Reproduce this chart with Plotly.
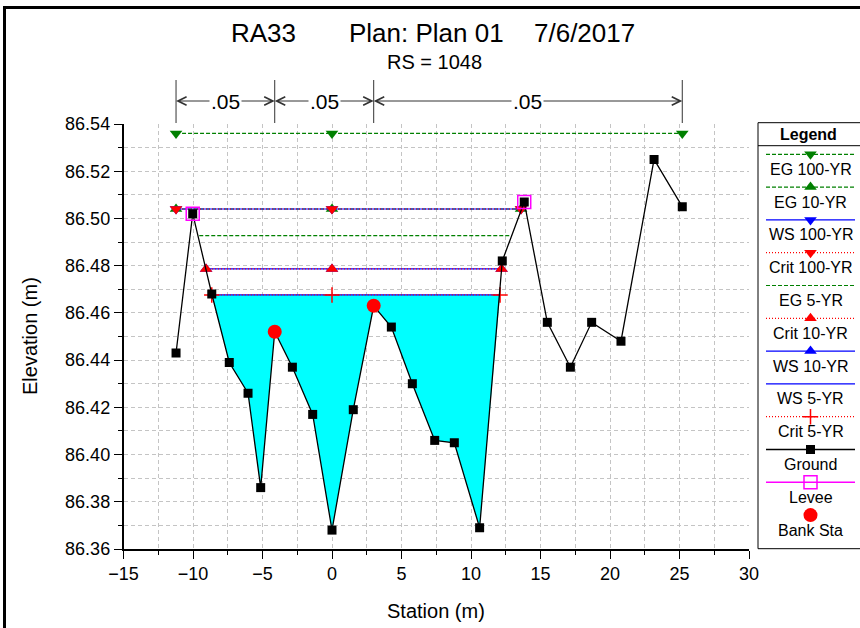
import plotly.graph_objects as go

W, H = 860, 628

# ground points of the cross section (station m, elevation m)
ground_sta = [-11.22, -10.02, -8.65, -7.39, -6.04, -5.13, -4.12, -2.85, -1.39, 0.0, 1.53, 3.0,
              4.27, 5.78, 7.39, 8.8, 10.62, 12.25, 13.83, 15.49, 17.15, 18.68, 20.79, 23.17, 25.2]
ground_elev = [86.443, 86.502, 86.468, 86.439, 86.426, 86.386, 86.452, 86.437, 86.417, 86.368, 86.419, 86.463,
               86.454, 86.430, 86.406, 86.405, 86.369, 86.482, 86.507, 86.456, 86.437, 86.456, 86.448, 86.525, 86.505]

levee_sta = [-10.02, 13.83]
levee_elev = [86.502, 86.507]

bank_sta = [-4.12, 3.0]
bank_elev = [86.452, 86.463]

# profiles: elevation and left / right extent
profile_names = ["EG 100-YR", "EG 10-YR", "WS 100-YR", "Crit 100-YR", "EG 5-YR",
                 "Crit 10-YR", "WS 10-YR", "WS 5-YR", "Crit 5-YR"]
profile_elev = [86.536, 86.504, 86.504, 86.504, 86.4927, 86.4786, 86.4786, 86.4676, 86.4676]
profile_left = [-11.22, -11.22, -11.22, -11.22, -9.55, -9.06, -9.06, -8.65, -8.65]
profile_right = [25.2, 13.6, 13.6, 13.6, 12.93, 12.2, 12.2, 12.09, 12.09]
mid_marker_sta = 0.0

# manning's n
n_bounds = [-11.22, -4.12, 3.0, 25.2]
n_values = [".05", ".05", ".05"]

FONT = "Arial, Liberation Sans, sans-serif"
GREEN, BLUE, RED = "#008000", "#0000ff", "#ff0000"
kind_style = {
    "EG": dict(color=GREEN, dash="4px,2px", width=1.2),
    "WS": dict(color=BLUE, dash="solid", width=1.2),
    "Crit": dict(color=RED, dash="1px,2px", width=1.2),
}
symbols = {"EG 100-YR": "triangle-down", "EG 10-YR": "triangle-up", "WS 100-YR": "triangle-down",
           "Crit 100-YR": "triangle-down", "Crit 10-YR": "triangle-up", "WS 10-YR": "triangle-up",
           "Crit 5-YR": "cross-thin"}


def marker_for(name, color):
    sym = symbols.get(name)
    if sym is None:
        return None
    if sym == "cross-thin":
        return dict(symbol=sym, size=11, color=color, line=dict(color=color, width=1.5))
    return dict(symbol=sym, size=11, color=color, line=dict(width=0))


fig = go.Figure()

# water fill of the lowest profile (WS 5-YR)
i5 = profile_names.index("WS 5-YR")
wl, wr, we = profile_left[i5], profile_right[i5], profile_elev[i5]
fx = [wl] + [s for s in ground_sta if wl < s < wr] + [wr]
fy = [we] + [e for s, e in zip(ground_sta, ground_elev) if wl < s < wr] + [we]
fig.add_trace(go.Scatter(x=fx, y=fy, fill="toself", fillcolor="#00ffff", mode="lines",
                         line=dict(width=0), hoverinfo="skip"))

# profile lines, green under blue under red
for kind in ["EG", "WS", "Crit"]:
    for name, el, l, r in zip(profile_names, profile_elev, profile_left, profile_right):
        if not name.startswith(kind):
            continue
        st = kind_style[kind]
        fig.add_trace(go.Scatter(x=[l, r], y=[el, el], mode="lines",
                                 line=dict(color=st["color"], dash=st["dash"], width=st["width"])))
        mk = marker_for(name, st["color"])
        if mk:
            fig.add_trace(go.Scatter(x=[l, mid_marker_sta, r], y=[el, el, el], mode="markers", marker=mk))

fig.add_trace(go.Scatter(x=ground_sta, y=ground_elev, mode="lines+markers",
                         line=dict(color="black", width=1.3),
                         marker=dict(symbol="square", size=9, color="black")))
fig.add_trace(go.Scatter(x=levee_sta, y=levee_elev, mode="markers",
                         marker=dict(symbol="square-open", size=13, color="#ff00ff", line=dict(width=1.5))))
fig.add_trace(go.Scatter(x=bank_sta, y=bank_elev, mode="markers",
                         marker=dict(symbol="circle", size=14, color=RED)))

# plot area in pixels
pl, pr, pt, pb = 123.5, 749, 124, 549
grid = dict(showgrid=True, gridcolor="#c4c4c4", griddash="4px,3px", gridwidth=1)
axis_common = dict(ticks="outside", ticklen=8, tickwidth=1, tickcolor="black", showline=True,
                   linecolor="black", linewidth=1.5, zeroline=False, automargin=False,
                   tickfont=dict(family=FONT, size=18, color="black"), **grid)

fig.update_layout(
    template="none",
    width=W, height=H,
    margin=dict(l=0, r=0, t=0, b=0),
    paper_bgcolor="white",
    plot_bgcolor="rgba(0,0,0,0)",
    showlegend=False,
    xaxis=dict(domain=[pl / W, pr / W], range=[-15, 30], tick0=0, dtick=5,
               minor=dict(dtick=2.5, ticks="outside", ticklen=4, tickcolor="black", **grid),
               **axis_common),
    yaxis=dict(domain=[1 - pb / H, 1 - pt / H], range=[86.36, 86.54], tick0=86.36, dtick=0.02,
               tickformat=".2f",
               minor=dict(dtick=0.01, ticks="outside", ticklen=4, tickcolor="black", **grid),
               **axis_common),
    xaxis2=dict(domain=[0, 1], range=[0, W], visible=False, anchor="y2"),
    yaxis2=dict(domain=[0, 1], range=[H, 0], visible=False, anchor="x2"),
)

shapes = []
annotations = []

# outer frame
shapes.append(dict(type="rect", xref="x2", yref="y2", x0=4.5, y0=7.5, x1=W + 10, y1=H + 10,
                   line=dict(color="black", width=3)))

# manning's n brackets
for b in n_bounds:
    shapes.append(dict(type="line", xref="x", yref="y2", x0=b, x1=b, y0=80, y1=123,
                       line=dict(color="#333333", width=1)))
ny = 101
for i, nv in enumerate(n_values):
    a, b = n_bounds[i], n_bounds[i + 1]
    m = (a + b) / 2
    for end in (a, b):
        annotations.append(dict(xref="x", yref="y2", x=end, y=ny, axref="x", ayref="y2", ax=m, ay=ny,
                                text="", showarrow=True, arrowhead=5, arrowsize=1.7, arrowwidth=1,
                                arrowcolor="#333333", standoff=0))
for i, nv in enumerate(n_values):
    m = (n_bounds[i] + n_bounds[i + 1]) / 2
    annotations.append(dict(xref="x", yref="y2", x=m, y=ny, text=nv, showarrow=False, bgcolor="white",
                            font=dict(family=FONT, size=21, color="black")))

# titles
tfont = dict(family=FONT, size=26, color="black")
annotations.append(dict(xref="x2", yref="y2", x=229, y=33, xanchor="left", showarrow=False,
                        text="RA33", font=tfont))
annotations.append(dict(xref="x2", yref="y2", x=347, y=33, xanchor="left", showarrow=False,
                        text="Plan: Plan 01", font=tfont))
annotations.append(dict(xref="x2", yref="y2", x=532, y=33, xanchor="left", showarrow=False,
                        text="7/6/2017", font=tfont))
annotations.append(dict(xref="x2", yref="y2", x=434, y=62, showarrow=False,
                        text="RS = 1048", font=dict(family=FONT, size=20, color="black")))
annotations.append(dict(xref="x2", yref="y2", x=436, y=611, showarrow=False,
                        text="Station (m)", font=dict(family=FONT, size=20, color="black")))
annotations.append(dict(xref="x2", yref="y2", x=30, y=336, showarrow=False, textangle=-90,
                        text="Elevation (m)", font=dict(family=FONT, size=20, color="black")))

# legend box
lx0, lx1, ly0, ly1 = 758, W + 10, 122.7, 548.7
shapes.append(dict(type="rect", xref="x2", yref="y2", x0=lx0, x1=lx1, y0=ly0, y1=ly1,
                   line=dict(color="black", width=1)))
shapes.append(dict(type="line", xref="x2", yref="y2", x0=lx0, x1=lx1, y0=145.7, y1=145.7,
                   line=dict(color="black", width=1)))
annotations.append(dict(xref="x2", yref="y2", x=808, y=134, showarrow=False, text="<b>Legend</b>",
                        font=dict(family=FONT, size=16, color="black")))

legend_items = []
for name in profile_names:
    st = kind_style[name.split(" ")[0]]
    legend_items.append((name, dict(color=st["color"], dash=st["dash"], width=st["width"]),
                         marker_for(name, st["color"])))
legend_items.append(("Ground", dict(color="black", dash="solid", width=1.5),
                     dict(symbol="square", size=9, color="black")))
legend_items.append(("Levee", dict(color="#ff00ff", dash="solid", width=1.5),
                     dict(symbol="square-open", size=13, color="#ff00ff", line=dict(width=1.5))))
legend_items.append(("Bank Sta", None, dict(symbol="circle", size=14, color=RED)))

for i, (label, ln, mk) in enumerate(legend_items):
    y = 154.3 + 32.8 * i
    if ln:
        fig.add_trace(go.Scatter(x=[766, 855], y=[y, y], mode="lines", line=ln, xaxis="x2", yaxis="y2",
                                 hoverinfo="skip"))
    if mk:
        fig.add_trace(go.Scatter(x=[810.5], y=[y], mode="markers", marker=mk, xaxis="x2", yaxis="y2",
                                 hoverinfo="skip"))
    annotations.append(dict(xref="x2", yref="y2", x=810.5, y=y + 15, showarrow=False, text=label,
                            font=dict(family=FONT, size=16, color="black")))

fig.update_layout(shapes=shapes, annotations=annotations)

# page body margin would shift the figure by 8px
fig.write_html("out.html", config={"displayModeBar": False},
               post_script="document.body.style.margin='0';")
